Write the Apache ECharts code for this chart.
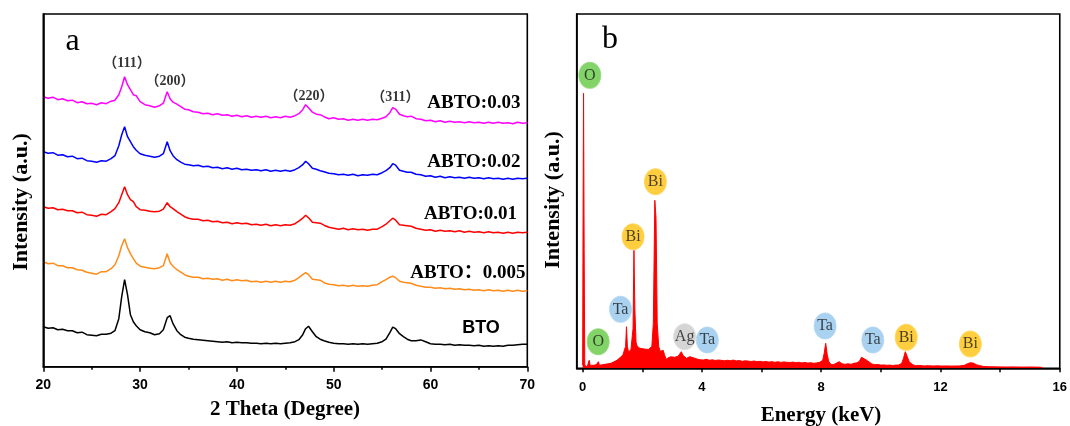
<!DOCTYPE html>
<html><head><meta charset="utf-8">
<script src="https://cdn.jsdelivr.net/npm/echarts@6/dist/echarts.min.js"></script>
<style>html,body{margin:0;padding:0;background:#fff}#c{width:1070px;height:426px}</style>
</head><body><div id="c"></div>
<script>
// ---------- Panel a : XRD ----------
const theta = [
 20, 20.5, 21, 21.5, 22, 22.5, 23, 23.5, 24, 24.5,
 25, 25.5, 26, 26.5, 27, 27.4, 27.8, 28.1, 28.4, 28.7,
 29.0, 29.3, 29.6, 30, 30.5, 31, 31.5, 32, 32.4, 32.8,
 33.1, 33.4, 33.8, 34.2, 34.6, 35, 35.5, 36, 36.5, 37,
 37.5, 38, 38.5, 39, 39.5, 40, 40.5, 41, 41.5, 42,
 42.5, 43, 43.5, 44, 44.5, 45, 45.5, 46, 46.4, 46.8,
 47.1, 47.4, 47.8, 48.2, 48.6, 49, 49.5, 50, 50.5, 51,
 51.5, 52, 52.5, 53, 53.5, 54, 54.5, 55, 55.4, 55.8,
 56.1, 56.4, 56.8, 57.2, 57.6, 58, 58.5, 59, 59.5, 60,
 60.5, 61, 61.5, 62, 62.5, 63, 63.5, 64, 64.5, 65,
 65.5, 66, 66.5, 67, 67.5, 68, 68.5, 69, 69.5, 70];
const xrd003 = [
 270, 268.5, 269.5, 267, 268, 266, 266.5, 264, 265, 263,
 263.5, 262, 264, 263, 265.5, 266.5, 272, 280, 290, 282,
 277, 272, 271, 265, 262, 261, 259.5, 261, 263.5, 275,
 268, 264.5, 262.5, 260, 257.5, 257, 255, 254.5, 253, 253.5,
 252, 253, 251.5, 252, 250.5, 251.5, 250, 251, 249.5, 250.5,
 249.5, 250.5, 249, 250, 249, 250.5, 249.5, 251, 253, 257,
 262, 259, 254.5, 252.5, 252, 250, 248, 249, 247.5, 248,
 246.5, 247.5, 246.5, 247.5, 246.5, 247.5, 247, 248.5, 250, 254,
 259, 257.5, 252.5, 251, 250, 250.5, 248, 247.5, 246, 246.5,
 245, 246, 244.5, 245.5, 244.5, 245, 244, 245, 244, 244.5,
 243.5, 244.5, 243.5, 244.5, 243.5, 244, 243, 244.5, 243.5, 244];
const xrd002 = [
 215, 213.5, 214, 211.5, 212, 210, 210.5, 208, 208.5, 206,
 205.5, 204.5, 206, 205.5, 208, 211, 221, 232, 240, 230,
 225, 220, 216.5, 213, 211.5, 210.5, 209.5, 210.5, 213, 225,
 216, 211, 207, 204.5, 202.5, 202, 201, 201.5, 200, 200.5,
 199, 199.5, 198, 199, 197.5, 198.5, 197, 197.5, 196.5, 197,
 196, 197, 195.5, 196.5, 195.5, 196.5, 195.5, 197, 199, 202,
 205.5, 203, 198.5, 197.5, 196, 195, 193.5, 193, 192, 192.5,
 191.5, 192.5, 191, 192, 191.5, 192.5, 192, 194, 196, 199,
 203, 201.5, 196.5, 195.5, 194.5, 194.5, 192.5, 192, 190.5, 191,
 189.5, 190.5, 189, 190, 189, 189.5, 188.5, 189.5, 188.5, 189,
 188, 189, 188, 188.5, 187.5, 188.5, 187.5, 188.5, 188, 188.5];
const xrd001 = [
 160, 158.5, 159, 157, 157.5, 156, 156, 154, 154.5, 152,
 151.5, 150.5, 152.5, 152, 155, 158, 164, 172, 180, 172,
 167, 165, 160, 157, 156.5, 155.5, 155, 155.5, 157.5, 164,
 160, 158, 155, 152.5, 150, 148.5, 147.5, 147.5, 146, 146.5,
 145, 145.5, 144, 144.5, 143, 144, 143, 143.5, 142, 142.5,
 141.5, 142.5, 141, 142, 141, 142, 141.5, 143, 145.5, 148.5,
 151.5, 149, 144.5, 144, 143.5, 141.5, 139.5, 138.5, 137.5, 138.5,
 137, 138, 137, 137.5, 136.5, 137.5, 137.5, 140, 142.5, 146,
 148.5, 146.5, 142, 141.5, 141, 140.5, 138.5, 137.5, 136.5, 137,
 135.5, 136.5, 135.5, 136, 135, 136, 134.5, 135.5, 134.5, 135,
 134, 135, 134, 134.5, 133.5, 134.5, 133.5, 134.5, 134, 134.5];
const xrd0005 = [
 105, 103, 103.5, 101, 101, 99, 99, 97, 96.5, 94.5,
 93.5, 92.5, 95, 95, 98, 102, 111, 121, 128, 119,
 113, 108, 103.5, 100.5, 99.5, 98.5, 98, 99, 101, 113,
 104, 100.5, 97, 94.5, 92, 90.5, 89.5, 89.5, 88, 88.5,
 87.5, 88, 86.5, 87.5, 86, 87, 86, 86.5, 85, 85.5,
 84.5, 85.5, 84.5, 85.5, 84.5, 85.5, 85, 86.5, 89, 92,
 94, 92, 87.5, 87, 86.5, 84, 82.5, 82, 81, 81.5,
 80.5, 81.5, 80.5, 81, 80.5, 81.5, 82, 85, 87, 89.5,
 90.5, 89, 85.5, 84.5, 84, 83.5, 81.5, 80.5, 79.5, 79.5,
 78.5, 79, 78, 78.5, 77.5, 78, 77, 77.5, 76.5, 77,
 76, 77, 76, 76.5, 75.5, 76.5, 75.5, 76.5, 75.5, 76];
const xrdBTO = [
 40, 38.5, 39, 37, 37.5, 36, 36, 34, 34.5, 32,
 31.5, 31, 32.5, 32.5, 33.5, 36, 48, 70, 87, 72,
 52, 45, 41, 37, 35, 34, 32, 33, 37, 49,
 51, 43, 36, 32, 29.5, 28.5, 27.5, 27, 26.5, 26,
 25.5, 25, 24.5, 25, 24, 24.5, 24, 24, 23.5, 23.5,
 23, 23.5, 23, 23.5, 23, 23.5, 24, 25, 27, 32,
 38, 40.5, 35, 30, 27.5, 26, 24.5, 23.5, 23, 23,
 22.5, 23, 22.5, 23, 22.5, 23, 23.5, 25, 27.5, 34,
 39.5, 38, 33, 30, 27.5, 26, 26, 26.8, 25, 23,
 22.5, 22.5, 22, 22.5, 21.5, 22, 21.5, 21.5, 21, 21.5,
 20.5, 21, 20.5, 21, 20.5, 21.5, 21.5, 22, 22.5, 22.5];
const sampleNames = ['ABTO:0.03', 'ABTO:0.02', 'ABTO:0.01', 'ABTO：0.005', 'BTO'];
const sampleColors = ['#ff00ff', '#0000ff', '#ff0000', '#ff8c1a', '#000000'];
const peakHkl = ['（111）', '（200）', '（220）', '（311）'];
const peakTheta = [28.65, 33.09, 47.45, 56.38];
const peakLabelLevel = [303.7, 285, 270, 269.7];

// ---------- Panel b : EDS ----------
const edsKeV = [
 0, 0.01, 0.03, 0.05, 0.07, 0.1, 0.15, 0.2, 0.22, 0.25,
 0.3, 0.35, 0.4, 0.45, 0.5, 0.53, 0.56, 0.6, 0.65, 0.7,
 0.75, 0.8, 0.85, 0.9, 0.95, 1.0, 1.05, 1.1, 1.15, 1.2,
 1.25, 1.3, 1.35, 1.4, 1.44, 1.47, 1.5, 1.54, 1.58, 1.62,
 1.66, 1.69, 1.72, 1.75, 1.79, 1.83, 1.87, 1.92, 1.97, 2.02,
 2.07, 2.12, 2.17, 2.22, 2.27, 2.32, 2.37, 2.42, 2.46, 2.5,
 2.55, 2.6, 2.65, 2.7, 2.74, 2.8, 2.85, 2.9, 2.97, 3.02,
 3.08, 3.14, 3.2, 3.26, 3.31, 3.36, 3.42, 3.48, 3.54, 3.6,
 3.66, 3.72, 3.8, 3.87, 3.95, 4.05, 4.15, 4.25, 4.35, 4.45,
 4.55, 4.65, 4.75, 4.85, 4.95, 5.05, 5.15, 5.25, 5.35, 5.45,
 5.55, 5.65, 5.75, 5.85, 5.95, 6.05, 6.15, 6.25, 6.35, 6.45,
 6.55, 6.65, 6.75, 6.85, 6.95, 7.05, 7.15, 7.25, 7.35, 7.45,
 7.55, 7.65, 7.75, 7.85, 7.95, 8.05, 8.1, 8.15, 8.2, 8.25,
 8.32, 8.4, 8.5, 8.6, 8.7, 8.8, 8.9, 9.0, 9.1, 9.2,
 9.28, 9.35, 9.4, 9.47, 9.55, 9.62, 9.7, 9.8, 9.9, 10.0,
 10.1, 10.2, 10.3, 10.4, 10.5, 10.6, 10.7, 10.76, 10.82, 10.88,
 10.95, 11.05, 11.15, 11.3, 11.45, 11.6, 11.75, 11.9, 12.05, 12.2,
 12.35, 12.5, 12.65, 12.8, 12.9, 13.0, 13.1, 13.2, 13.3, 13.45,
 13.6, 13.8, 14.0, 14.2, 14.4, 14.6, 14.8, 15.0, 15.2, 15.35,
 15.45];
const edsCounts = [
 3, 120, 275, 120, 3, 2, 1.5, 3, 8, 3,
 2.5, 3, 2, 3.5, 3, 6.6, 3, 4, 3.5, 4.5,
 4, 5, 4.5, 5.5, 5, 6, 6.5, 7.5, 8, 9.5,
 10.5, 12, 13.5, 15, 22, 41.6, 22, 16, 17, 19,
 21, 40, 118, 60, 26, 22, 21, 20, 19, 19.5,
 18.5, 19, 18, 19, 20, 22, 45, 168, 150, 45,
 22, 17, 16, 18, 14, 9, 10, 11, 11.5, 10,
 11, 10, 12, 13, 16.6, 13, 11, 10, 11, 11.6,
 10, 10.5, 9.5, 9, 8.5, 8.3, 9, 8, 8.5, 7.8,
 8.3, 8, 7.5, 8, 7.6, 8.2, 7.4, 7.8, 7, 7.5,
 7.2, 6.8, 7.3, 6.6, 7, 6.4, 6.8, 6.2, 6.6, 6,
 6.5, 5.9, 6.4, 6, 5.8, 6.2, 5.6, 6, 5.4, 5.8,
 5.2, 5.6, 5, 5.4, 6, 8, 15, 25, 14, 7,
 4, 3.5, 5, 6.6, 4.5, 4, 4.5, 4, 5, 5.5,
 7, 11, 11.6, 9, 7.6, 6, 4.3, 3.6, 3.8, 3.2,
 3.4, 3, 3.2, 2.8, 3.2, 3.3, 5, 10, 16.6, 12,
 6.6, 4, 2.6, 2.8, 2.4, 2.6, 2.3, 2.5, 2.2, 2.4,
 2.2, 2.3, 2.4, 3, 4.5, 5.6, 5.2, 3.6, 2.8, 1.8,
 1.6, 1.5, 1.4, 1.3, 1.4, 1.3, 1.2, 1.3, 1.2, 1.1,
 0];
const badgeElem = ['O', 'Bi', 'Bi', 'Ta', 'O', 'Ag', 'Ta', 'Ta', 'Ta', 'Bi', 'Bi'];
const badgeKeV = [0.24, 2.44, 1.69, 1.27, 0.52, 3.42, 4.18, 8.13, 9.73, 10.85, 13.0];
const badgeLevel = [293, 186.6, 131.6, 59, 26.6, 31.6, 28.3, 42.3, 28.3, 31, 24.3];
const elemColor = { O: '#63c842', Bi: '#ffc20e', Ta: '#93c6ec', Ag: '#cacaca' };
const elemBorder = { O: '#8fd873', Bi: '#ffd45a', Ta: '#b2d6f2', Ag: '#dddddd' };
const edsTickValues = [0, 2, 4, 6, 8, 10, 12, 14, 16];
const edsLabelValues = [0, 4, 8, 12, 16];

const SERIF = '"Liberation Serif", "Times New Roman", serif';
const SERIF_CJK = '"Liberation Serif", "Noto Sans CJK SC", serif';
const SANS = '"Liberation Sans", Arial, sans-serif';
const xrdSets = [xrd003, xrd002, xrd001, xrd0005, xrdBTO];

const chart = echarts.init(document.getElementById('c'));
const series = xrdSets.map((arr, k) => ({
  type: 'line', xAxisIndex: 0, yAxisIndex: 0, name: sampleNames[k],
  data: theta.map((t, i) => [t, arr[i]]), symbol: 'none', smooth: false,
  lineStyle: { color: sampleColors[k], width: 1.5 }, itemStyle: { color: sampleColors[k] },
  silent: true, z: 2
}));
series.push({
  type: 'scatter', xAxisIndex: 0, yAxisIndex: 0,
  data: peakTheta.map((t, i) => ({ value: [t, peakLabelLevel[i]], name: peakHkl[i] })),
  symbolSize: 1, itemStyle: { color: 'transparent' }, silent: true,
  label: { show: true, position: 'inside', formatter: p => p.name,
    fontFamily: SERIF_CJK, fontWeight: 'bold', fontSize: 14, color: '#000' }
});
series.push({
  type: 'line', xAxisIndex: 1, yAxisIndex: 1,
  data: edsKeV.map((e, i) => [e, edsCounts[i]]), symbol: 'none',
  lineStyle: { color: '#ff0000', width: 1 }, areaStyle: { color: '#ff0000', opacity: 1 },
  silent: true, z: 2
});
series.push({
  type: 'scatter', xAxisIndex: 1, yAxisIndex: 1,
  data: badgeElem.map((el, i) => ({ value: [badgeKeV[i], badgeLevel[i]], name: el,
    itemStyle: { color: elemColor[el], borderColor: elemBorder[el], borderWidth: 1 } })),
  symbol: 'circle', symbolSize: [22, 26], silent: true, z: 5,
  label: { show: true, position: 'inside', formatter: p => p.name,
    fontFamily: SERIF, fontSize: 16, color: '#1a1a1a' }
});

const graphic = [];
const labelPos = [[520.4, 103.3], [520.4, 162.3], [517, 214], [525.6, 272.7]];
for (let k = 0; k < 4; k++) {
  graphic.push({ type: 'text', x: labelPos[k][0], y: labelPos[k][1], silent: true,
    style: { text: sampleNames[k], font: 'bold 19px ' + SERIF_CJK, fill: '#000',
      align: 'right', textAlign: 'right', verticalAlign: 'middle', textVerticalAlign: 'middle' } });
}
graphic.push({ type: 'text', x: 481, y: 327.7, silent: true,
  style: { text: sampleNames[4], font: 'bold 18px ' + SANS, fill: '#000',
    align: 'center', textAlign: 'center', verticalAlign: 'middle', textVerticalAlign: 'middle' } });
const txt = (t, x, y, font, rot) => ({ type: 'text', x, y, rotation: rot || 0, silent: true,
  style: { text: t, font, fill: '#000', align: 'center', textAlign: 'center',
    verticalAlign: 'middle', textVerticalAlign: 'middle' } });
graphic.push(txt('a', 72.5, 42, '32px ' + SERIF));
graphic.push(txt('b', 610, 40, '32px ' + SERIF));
graphic.push(txt('Intensity (a.u.)', 21, 202, 'bold 22px ' + SERIF, Math.PI / 2));
graphic.push(txt('Intensity (a.u.)', 553, 200, 'bold 22px ' + SERIF, Math.PI / 2));
graphic.push(txt('2 Theta (Degree)', 285, 410, 'bold 21px ' + SERIF));
graphic.push(txt('Energy (keV)', 821, 416, 'bold 21px ' + SERIF));

chart.setOption({
  animation: false,
  backgroundColor: '#ffffff',
  grid: [
    { left: 43.3, right: 542.7, top: 14, bottom: 59.3, show: true, borderColor: '#000', borderWidth: 1.6, backgroundColor: 'transparent' },
    { left: 576.7, right: 8, top: 14, bottom: 57.7, show: true, borderColor: '#000', borderWidth: 1.6, backgroundColor: 'transparent' }
  ],
  xAxis: [
    { type: 'value', gridIndex: 0, min: 20, max: 70, interval: 10, z: 10,
      axisLine: { show: true, onZero: false, lineStyle: { color: '#000', width: 1.6 } },
      axisTick: { show: true, inside: false, length: 5, lineStyle: { color: '#000', width: 1.5 } },
      minorTick: { show: true, splitNumber: 2, length: 3, lineStyle: { color: '#000', width: 1.5 } },
      splitLine: { show: false },
      axisLabel: { color: '#000', fontFamily: SANS, fontWeight: 'bold', fontSize: 14, margin: 11 } },
    { type: 'value', gridIndex: 1, min: -0.2, max: 16, z: 10,
      axisLine: { show: true, onZero: false, lineStyle: { color: '#000', width: 1.6 } },
      axisTick: { show: true, inside: false, length: 4, customValues: edsTickValues, lineStyle: { color: '#000', width: 1.5 } },
      splitLine: { show: false },
      axisLabel: { color: '#000', fontFamily: SANS, fontWeight: 'bold', fontSize: 13, margin: 13, customValues: edsLabelValues } }
  ],
  yAxis: [
    { type: 'value', gridIndex: 0, min: 0, max: 352.7, z: 10,
      axisLine: { show: true, onZero: false, lineStyle: { color: '#000', width: 1.6 } },
      axisTick: { show: false }, axisLabel: { show: false }, splitLine: { show: false } },
    { type: 'value', gridIndex: 1, min: 0, max: 354.3, z: 10,
      axisLine: { show: true, onZero: false, lineStyle: { color: '#000', width: 1.6 } },
      axisTick: { show: false }, axisLabel: { show: false }, splitLine: { show: false } }
  ],
  series,
  graphic
});
</script></body></html>
